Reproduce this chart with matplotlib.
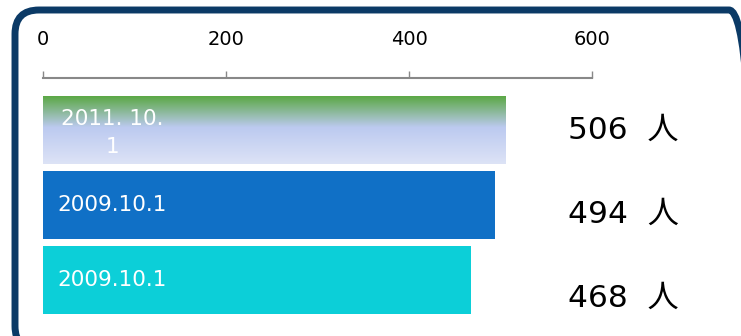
import numpy as np
import matplotlib.pyplot as plt
from matplotlib.patches import FancyBboxPatch
from matplotlib.colors import LinearSegmentedColormap
from matplotlib.transforms import IdentityTransform

values = [506, 494, 468]
bar_labels = ['2011. 10.\n1', '2009.10.1', '2009.10.1']
value_labels = ['506  人', '494  人', '468  人']
xticks = [0, 200, 400, 600]

bar_colors = [None, '#1070c6', '#0ccfd8']
grad = LinearSegmentedColormap.from_list(
    'g', [(0, '#5ba845'), (0.46, '#bccaf0'), (1, '#dde3f6')])

fig = plt.figure(figsize=(7.41, 3.36), dpi=100)

# rounded frame, pixel coords
frame = FancyBboxPatch((15, -14), 738, 340,
                       boxstyle='round,pad=0,rounding_size=24',
                       transform=IdentityTransform(), fill=False,
                       edgecolor='#0b3a66', linewidth=5, clip_on=False)
fig.patches.append(frame)

ax = fig.add_axes([43 / 741, 1 - 318 / 336, 549 / 741, 240 / 336])
unit = 75.0
h = 68 / unit

y = np.arange(len(values))
bars = ax.barh(y, values, height=h, color=[c if c else 'none' for c in bar_colors])

# gradient for the first bar
img = ax.imshow(np.linspace(0, 1, 256).reshape(-1, 1), cmap=grad, aspect='auto',
                extent=[0, values[0], y[0] + h / 2, y[0] - h / 2], zorder=2)
img.set_clip_path(bars[0])
ax.set_xlim(0, 600)
ax.set_ylim(2 + 38 / unit, -52 / unit)

for i, lab in enumerate(bar_labels):
    if i == 0:
        ax.text(76, y[i] + 0.04, lab, color='white', fontsize=15.5, ha='center', va='center',
                multialignment='center', linespacing=1.45, zorder=3)
    else:
        ax.text(16, y[i], lab, color='white', fontsize=15.5, ha='left', va='center', zorder=3)

for i, lab in enumerate(value_labels):
    ax.text(574, y[i] * 1.12, lab, fontsize=22.5, ha='left', va='center',
            family=['DejaVu Sans', 'Noto Sans CJK JP'], clip_on=False)

ax.set_xticks(xticks)
ax.xaxis.tick_top()
ax.tick_params(axis='x', direction='out', length=5, width=1, color='#888888',
               pad=16, labelsize=14)
ax.set_yticks([])
for s in ['bottom', 'left', 'right']:
    ax.spines[s].set_visible(False)
ax.spines['top'].set_color('#888888')
ax.spines['top'].set_linewidth(1.5)
ax.patch.set_visible(False)

fig.savefig('out.png', dpi=100)
